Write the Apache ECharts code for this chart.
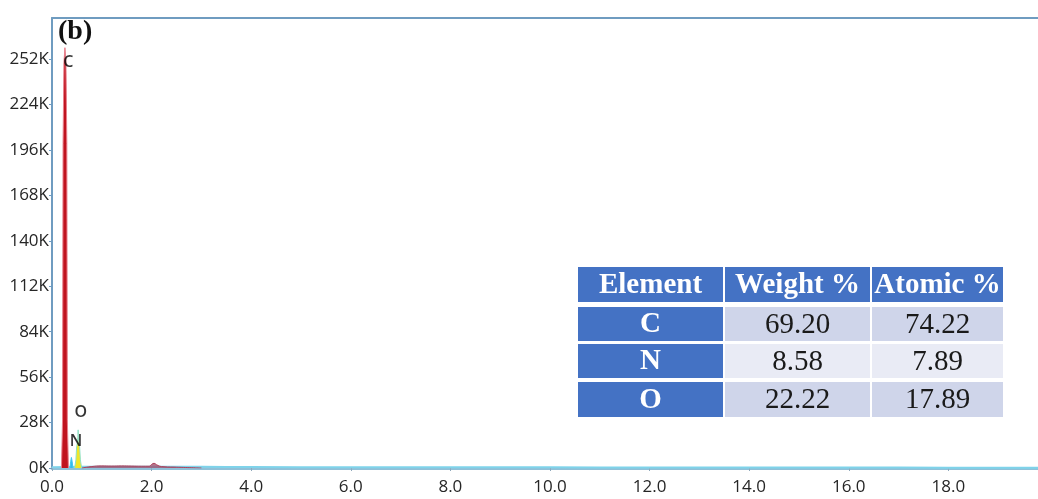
<!DOCTYPE html>
<html>
<head>
<meta charset="utf-8">
<script src="https://cdn.jsdelivr.net/npm/echarts@6/dist/echarts.min.js"></script>
<style>
  html, body { margin: 0; padding: 0; background: #ffffff; }
  #chart { width: 1038px; height: 499px; }
</style>
</head>
<body>
<div id="chart"></div>
<script>
// EDS spectrum: energy (keV) vs counts
var xTicks = [0, 2, 4, 6, 8, 10, 12, 14, 16, 18];

// Carbon K-alpha peak
var cEnergy = [0.19, 0.212, 0.222, 0.24, 0.26, 0.28, 0.298, 0.308, 0.33];
var cCounts = [0, 30000, 200000, 250000, 259000, 250000, 200000, 30000, 0];

// Nitrogen K-alpha peak
var nEnergy = [0.36, 0.375, 0.39, 0.405, 0.42];
var nCounts = [0, 4000, 6500, 4000, 0];

// Oxygen K-alpha peak
var oEnergy = [0.455, 0.48, 0.495, 0.51, 0.52, 0.525, 0.53, 0.54, 0.555, 0.57, 0.595];
var oCounts = [0, 5000, 13000, 15500, 19000, 23500, 19000, 15500, 13000, 5000, 0];

// Low-energy background hump with a small peak near 2.05 keV
var bgEnergy = [0.6, 0.8, 1.0, 1.2, 1.4, 1.6, 1.8, 1.95, 2.0, 2.05, 2.1, 2.2, 2.5, 3.0];
var bgCounts = [0, 900, 1300, 1200, 1300, 1200, 1100, 1100, 2200, 2900, 2000, 900, 500, 0];

// Continuum baseline across the full range
var baseEnergy = [0, 0.6, 1, 2, 3, 4, 6, 8, 10, 12, 14, 16, 18, 20];
var baseCounts = [400, 700, 800, 800, 700, 600, 500, 450, 400, 350, 300, 250, 220, 200];

// Peak labels: element, energy, counts
var peakLabelNames = ['C', 'N', 'O'];
var peakLabelEnergy = [0.33, 0.48, 0.58];
var peakLabelCounts = [250000, 16500, 34500];

// Composition table
var tableHeaders = ['Element', 'Weight %', 'Atomic %'];
var tableElements = ['C', 'N', 'O'];
var weightPct = ['69.20', '8.58', '22.22'];
var atomicPct = ['74.22', '7.89', '17.89'];

function pairs(xs, ys) {
  return xs.map(function (x, i) { return [x, ys[i]]; });
}

var chart = echarts.init(document.getElementById('chart'), null, { renderer: 'canvas' });

var axisFont = '"Open Sans", sans-serif';
var frameColor = '#6f9cc0';

// Table graphic elements
var tbl = [];
var colX = [578, 725, 872];
var colW = [145, 145, 131];
var rowY = [267, 307, 344, 382];
var rowH = [35, 34, 34, 35];
var blue = '#4472c4';
var cellBg = ['#cfd5ea', '#e9ebf5', '#cfd5ea'];
for (var r = 0; r < 4; r++) {
  for (var c = 0; c < 3; c++) {
    var isHead = r === 0 || c === 0;
    var txt;
    if (r === 0) txt = tableHeaders[c];
    else if (c === 0) txt = tableElements[r - 1];
    else if (c === 1) txt = weightPct[r - 1];
    else txt = atomicPct[r - 1];
    tbl.push({
      type: 'rect',
      shape: { x: colX[c], y: rowY[r], width: colW[c], height: rowH[r] },
      style: { fill: isHead ? blue : cellBg[r - 1] },
      silent: true
    });
    tbl.push({
      type: 'text',
      x: colX[c] + colW[c] / 2,
      y: rowY[r] + rowH[r] / 2 + 1,
      style: {
        text: txt,
        fill: isHead ? '#ffffff' : '#1a1a1a',
        font: (isHead ? 'bold 29px ' : '29px ') + '"Liberation Serif", "DejaVu Serif", serif',
        align: 'center',
        verticalAlign: 'middle'
      },
      silent: true
    });
  }
}

tbl.push({
  type: 'text',
  x: 58, y: 18,
  style: {
    text: '(b)',
    fill: '#111111',
    font: 'bold 28px "Liberation Serif", "DejaVu Serif", serif'
  },
  silent: true
});

var option = {
  animation: false,
  backgroundColor: '#ffffff',
  grid: { left: 52, top: 18, right: 0, height: 450 },
  xAxis: [
    {
      type: 'value', min: 0, max: 19.8, interval: 2,
      axisLine: { show: true, lineStyle: { color: '#8fc0d8', width: 3 } },
      axisTick: { show: true, length: 3, lineStyle: { color: '#8fa8bb' } },
      splitLine: { show: false },
      axisLabel: {
        color: '#262626', fontSize: 17, fontFamily: axisFont, margin: 11,
        showMaxLabel: false,
        formatter: function (v) { return v.toFixed(1); }
      }
    },
    {
      // top frame edge
      type: 'value', position: 'top', min: 0, max: 19.8,
      axisLine: { show: true, lineStyle: { color: frameColor, width: 2 } },
      axisTick: { show: false }, axisLabel: { show: false }, splitLine: { show: false }
    }
  ],
  yAxis: {
    type: 'value', min: 0, max: 277300, interval: 28000,
    axisLine: { show: true, lineStyle: { color: frameColor, width: 2 } },
    axisTick: { show: true, length: 3, lineStyle: { color: frameColor } },
    splitLine: { show: false },
    axisLabel: {
      color: '#262626', fontSize: 17, fontFamily: axisFont, margin: 3,
      showMaxLabel: false,
      formatter: function (v) { return Math.round(v / 1000) + 'K'; }
    }
  },
  series: [
    {
      type: 'line', data: pairs(baseEnergy, baseCounts),
      showSymbol: false, smooth: true,
      lineStyle: { color: '#7fd3ea', width: 2 },
      areaStyle: { color: 'rgba(150,210,235,0.35)' },
      z: 2
    },
    {
      type: 'line', data: pairs(bgEnergy, bgCounts),
      showSymbol: false, smooth: true,
      lineStyle: { color: '#b0405a', width: 1 },
      areaStyle: { color: '#a05470', opacity: 0.8 },
      z: 3
    },
    {
      type: 'line', data: pairs(cEnergy, cCounts),
      showSymbol: false,
      lineStyle: { color: '#e8808c', width: 1 },
      areaStyle: { color: '#c0141f', opacity: 1 },
      z: 4
    },
    {
      type: 'line', data: pairs(nEnergy, nCounts),
      showSymbol: false,
      lineStyle: { color: '#40c8f0', width: 1 },
      areaStyle: { color: '#34b8f0', opacity: 1 },
      z: 4
    },
    {
      type: 'line', data: pairs(oEnergy, oCounts),
      showSymbol: false,
      lineStyle: { color: '#8fe0c8', width: 1 },
      areaStyle: { color: '#f0e628', opacity: 1 },
      z: 4
    },
    {
      type: 'scatter',
      data: peakLabelNames.map(function (n, i) { return { name: n, value: [peakLabelEnergy[i], peakLabelCounts[i]] }; }),
      symbolSize: 0,
      label: {
        show: true, position: 'inside', formatter: '{b}',
        color: '#000000', fontSize: 16, fontWeight: 600, fontFamily: '"Open Sans", sans-serif'
      },
      z: 6
    }
  ],
  graphic: tbl
};

chart.setOption(option);
</script>
</body>
</html>
